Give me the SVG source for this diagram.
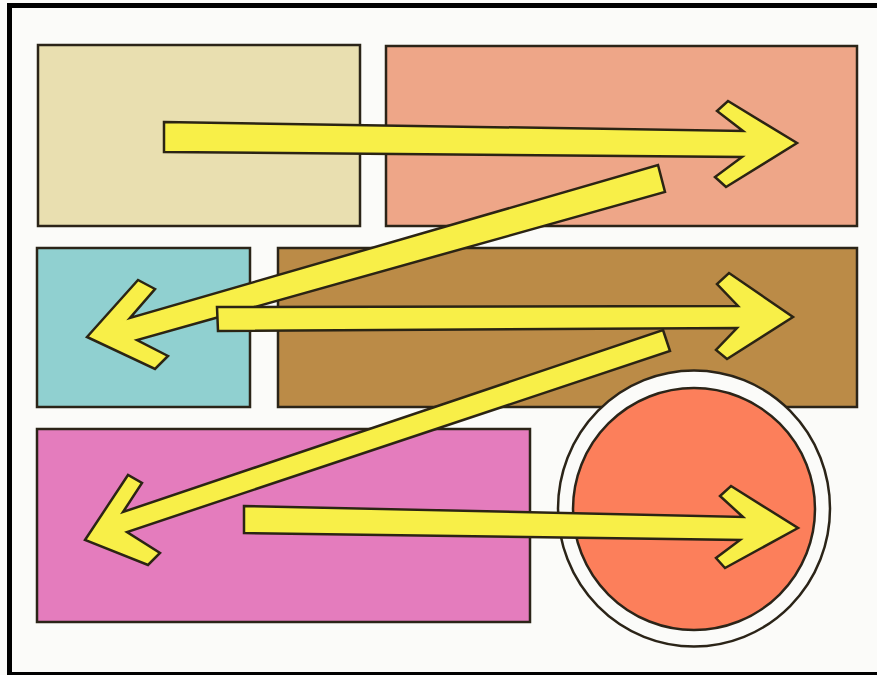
<svg xmlns="http://www.w3.org/2000/svg" width="877" height="675" viewBox="0 0 877 675">
<style>
.box{stroke:#2b2418;stroke-width:2.5}
.arrow{fill:#f8ef48;stroke:#2b2414;stroke-width:2.5;stroke-linejoin:miter}
</style>
<rect x="0" y="0" width="877" height="675" fill="#fbfbf9"/>
<rect x="9.5" y="5.5" width="880" height="669" fill="none" stroke="#000" stroke-width="5"/>
<g id="box-beige"><rect class="box" x="38" y="45" width="322" height="181" fill="#e9dfb0"/></g>
<g id="box-salmon"><rect class="box" x="386" y="46" width="471" height="180" fill="#eea688"/></g>
<g id="box-cyan"><rect class="box" x="37" y="248" width="213" height="159" fill="#90d0d0"/></g>
<g id="box-brown"><rect class="box" x="278" y="248" width="579" height="159" fill="#bb8b47"/></g>
<g id="box-pink"><rect class="box" x="37" y="429" width="493" height="193" fill="#e47cbd"/></g>
<g id="circle">
<ellipse cx="694" cy="508.5" rx="136" ry="138" fill="#fbfbf9" stroke="#2b2418" stroke-width="2.5"/>
<circle cx="694" cy="509" r="121" fill="#fc7f5b" stroke="#2b2418" stroke-width="2.5"/>
</g>
<g id="connectors">
<polygon class="arrow" points="164,122 743,131 717,111 728,101 797,143 726,187 715,177 742,157 164,152"/>
<polygon class="arrow" points="658,165 665,192 137,340 168,356 155,369 87,337 138,280 155,289 130,318"/>
<polygon class="arrow" points="217,307 738,306 717,284 729,273 793,317 727,359 716,350 737,328 218,331"/>
<polygon class="arrow" points="663,330 670,351 127,532 160,553 148,565 85,540 128,475 142,483 123,512"/>
<polygon class="arrow" points="244,506 743,517 720,496 731,486 798,528 725,568 716,558 740,540 244,533"/>
</g>
</svg>
